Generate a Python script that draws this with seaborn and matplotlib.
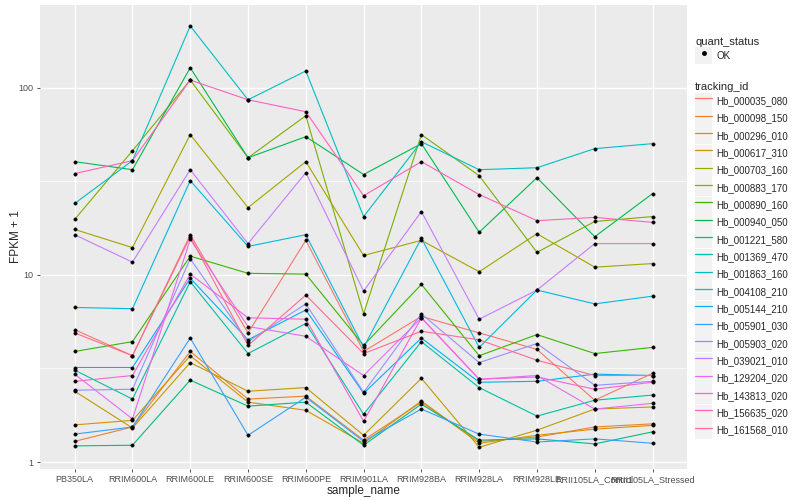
import pandas as pd
import matplotlib.pyplot as plt
from matplotlib.lines import Line2D
from matplotlib.patches import Rectangle
from matplotlib.legend_handler import HandlerTuple
import seaborn as sns

# samples on the x axis
samples = ["PB350LA", "RRIM600LA", "RRIM600LE", "RRIM600SE", "RRIM600PE",
           "RRIM901LA", "RRIM928BA", "RRIM928LA", "RRIM928LE",
           "RRII105LA_Control", "RRII105LA_Stressed"]

# FPKM + 1 per tracking_id
Hb_000035_080 = [5.1, 3.7, 16.4, 4.9, 15.3, 3.9, 6.0, 4.9, 4.0, 2.14, 2.98]
Hb_000098_150 = [1.29, 1.54, 3.9, 2.17, 2.25, 1.31, 2.09, 1.29, 1.36, 1.54, 1.60]
Hb_000296_010 = [1.58, 1.67, 3.7, 2.09, 1.89, 1.26, 2.12, 1.26, 1.39, 1.50, 1.57]
Hb_000617_310 = [2.39, 1.52, 3.4, 2.39, 2.5, 1.39, 2.8, 1.20, 1.48, 1.92, 1.97]
Hb_000703_160 = [17.5, 14.0, 56.2, 22.9, 40.3, 12.7, 15.3, 10.4, 16.6, 11.0, 11.5]
Hb_000883_170 = [19.8, 46.1, 110, 42.3, 70.9, 6.2, 56.2, 33.9, 13.2, 19.3, 20.5]
Hb_000890_160 = [3.9, 4.4, 12.6, 10.2, 10.1, 4.2, 8.9, 3.7, 4.8, 3.8, 4.1]
Hb_000940_050 = [40.3, 36.5, 128, 42.3, 54.8, 34.4, 50.3, 16.9, 33.1, 16.0, 27.2]
Hb_001221_580 = [1.22, 1.23, 2.74, 1.99, 2.09, 1.23, 2.04, 1.31, 1.33, 1.25, 1.45]
Hb_001369_470 = [3.1, 2.17, 9.2, 3.8, 5.5, 1.80, 4.4, 2.5, 1.76, 2.14, 2.28]
Hb_001863_160 = [24.1, 40.8, 214, 86.3, 123, 20.5, 51.5, 36.5, 37.4, 47.3, 50.3]
Hb_004108_210 = [6.7, 6.6, 31.9, 14.2, 16.4, 4.1, 15.7, 4.1, 8.3, 7.0, 7.7]
Hb_005144_210 = [3.2, 3.2, 9.6, 4.5, 6.5, 2.33, 4.6, 2.67, 2.7, 2.95, 2.9]
Hb_005901_030 = [1.41, 1.54, 4.6, 1.39, 2.22, 1.29, 1.92, 1.41, 1.28, 1.33, 1.26]
Hb_005903_020 = [2.42, 2.45, 12.2, 4.4, 7.0, 2.36, 6.2, 3.4, 4.3, 2.57, 2.7]
Hb_039021_010 = [16.4, 11.7, 36.5, 14.7, 35.2, 8.2, 21.8, 5.8, 8.3, 14.7, 14.7]
Hb_129204_020 = [2.95, 1.70, 15.5, 5.3, 4.7, 2.9, 5.9, 2.77, 2.9, 1.92, 2.06]
Hb_143813_020 = [2.7, 2.9, 10.1, 5.9, 5.8, 1.65, 5.9, 2.77, 2.85, 2.45, 2.67]
Hb_156635_020 = [34.8, 40.8, 110, 86.3, 74.5, 26.5, 40.3, 26.9, 19.5, 20.3, 19.1]
Hb_161568_010 = [4.9, 3.7, 16.0, 4.2, 7.8, 3.8, 5.0, 4.5, 3.5, 2.9, 2.9]

tracking_ids = ["Hb_000035_080", "Hb_000098_150", "Hb_000296_010", "Hb_000617_310",
                "Hb_000703_160", "Hb_000883_170", "Hb_000890_160", "Hb_000940_050",
                "Hb_001221_580", "Hb_001369_470", "Hb_001863_160", "Hb_004108_210",
                "Hb_005144_210", "Hb_005901_030", "Hb_005903_020", "Hb_039021_010",
                "Hb_129204_020", "Hb_143813_020", "Hb_156635_020", "Hb_161568_010"]
series = [Hb_000035_080, Hb_000098_150, Hb_000296_010, Hb_000617_310,
          Hb_000703_160, Hb_000883_170, Hb_000890_160, Hb_000940_050,
          Hb_001221_580, Hb_001369_470, Hb_001863_160, Hb_004108_210,
          Hb_005144_210, Hb_005901_030, Hb_005903_020, Hb_039021_010,
          Hb_129204_020, Hb_143813_020, Hb_156635_020, Hb_161568_010]

# ggplot2 default hue palette for 20 groups
colors = ["#F8766D", "#EA8331", "#D89000", "#C09B00", "#A3A500", "#7CAE00",
          "#39B600", "#00BB4E", "#00BF7D", "#00C1A3", "#00BFC4", "#00BAE0",
          "#00B0F6", "#35A2FF", "#9590FF", "#C77CFF", "#E76BF3", "#FA62DB",
          "#FF62BC", "#FF6C91"]

rows = []
for tid, vals in zip(tracking_ids, series):
    for s, v in zip(samples, vals):
        rows.append({"tracking_id": tid, "sample_name": s, "fpkm1": v})
df = pd.DataFrame(rows)
df["pos"] = df["sample_name"].map({s: i for i, s in enumerate(samples)})

sns.set_theme(style="darkgrid")
plt.rcParams['font.family'] = ['Liberation Sans', 'DejaVu Sans']

fig = plt.figure(figsize=(8, 5), dpi=100)
ax = fig.add_axes([0.05, 0.062, 0.809, 0.928])
ax.set_facecolor("#EBEBEB")

sns.lineplot(data=df, x="pos", y="fpkm1", hue="tracking_id", hue_order=tracking_ids,
             palette=colors, linewidth=0.8, errorbar=None, sort=False,
             legend=False, ax=ax)
sns.scatterplot(data=df, x="pos", y="fpkm1", color="black", s=6, marker="o",
                edgecolor="black", linewidth=0.3, legend=False, ax=ax, zorder=5)

ax.set_yscale("log")
ax.set_ylim(0.918, 277)
ax.set_xlim(-0.6, 10.6)
ax.set_yticks([1, 10, 100])
ax.set_yticklabels(["1", "10", "100"])
ax.set_yticks([10 ** 0.5, 10 ** 1.5], minor=True)
ax.set_yticklabels([], minor=True)
ax.set_xticks(range(len(samples)))
ax.set_xticklabels(samples)

ax.grid(True, which="major", color="white", linewidth=1.0)
ax.grid(True, which="minor", axis="y", color="white", linewidth=0.5)
ax.grid(False, which="minor", axis="x")
for sp in ax.spines.values():
    sp.set_visible(False)
ax.tick_params(axis="both", which="major", length=2.5, width=0.6, color="#333333",
               labelsize=6.5, labelcolor="#4D4D4D", pad=2, bottom=True, left=True)
ax.tick_params(axis="y", which="minor", length=0)

ax.set_xlabel("sample_name", fontsize=8.5, labelpad=0.5)
ax.set_ylabel("FPKM + 1", fontsize=8.5)
ax.yaxis.set_label_coords(-0.028, 0.5)

# legends, ggplot-like keys with grey boxes
key_bg = dict(facecolor="#F2F2F2", edgecolor="none")
leg_kw = dict(loc="upper left", frameon=False, fontsize=7, title_fontsize=8,
              alignment="left", borderpad=0, borderaxespad=0,
              handlelength=1.75, handleheight=2.35, handletextpad=0.45,
              labelspacing=0.01,
              handler_map={tuple: HandlerTuple(ndivide=1, pad=0)})

ok_handle = (Rectangle((0, 0), 1, 1, **key_bg),
             Line2D([], [], linestyle="none", marker="o", color="black", markersize=2.5))
leg1 = fig.legend([ok_handle], ["OK"], title="quant_status",
                  bbox_to_anchor=(0.869, 0.926), **leg_kw)

id_handles = [(Rectangle((0, 0), 1, 1, **key_bg), Line2D([], [], color=c, linewidth=0.9))
              for c in colors]
leg2 = fig.legend(id_handles, tracking_ids, title="tracking_id",
                  bbox_to_anchor=(0.869, 0.835), **leg_kw)

fig.savefig("out.png", dpi=100)
